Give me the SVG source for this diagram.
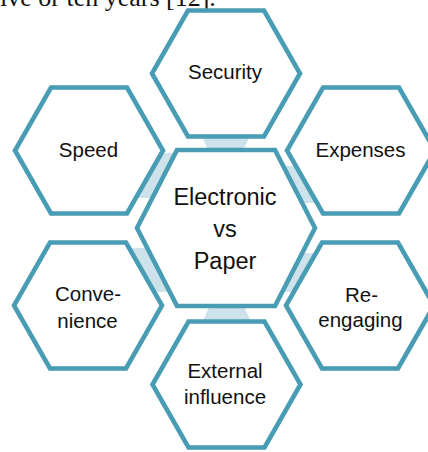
<svg xmlns="http://www.w3.org/2000/svg" width="428" height="452" viewBox="0 0 428 452">
<style>
.hex{fill:#ffffff;stroke:#489cb4;stroke-width:4.6;stroke-linejoin:miter}
.con{fill:#cde2ea;stroke:none}
.lbl{font-family:"Liberation Sans",Arial,sans-serif;font-size:20.5px;fill:#111111;text-anchor:middle}
.big{font-size:23.5px}
.top{font-family:"Liberation Serif","Times New Roman",serif;font-size:26px;fill:#111111}
</style>
<rect x="0" y="0" width="428" height="452" fill="#ffffff"/>
<text class="top" x="0" y="5.5">ive or ten years [12].</text>
<g id="connectors">
<polygon class="con" points="202,136 250,136 243,150.5 208,150.5"/>
<polygon class="con" points="210,305 243,305 251,321 203,321"/>
<polygon class="con" points="158,153 180,153 155,198 132,198"/>
<polygon class="con" points="280,166 299,166 320,203 299,203"/>
<polygon class="con" points="127,248 151,248 173,292 151,292"/>
<polygon class="con" points="298,253 319,253 297,292 278,292"/>
</g>
<g id="node-security">
<polygon class="hex" points="188,10.5 264,10.5 300,73.5 264,136.5 188,136.5 152,73.5"/>
<text class="lbl" x="225" y="79">Security</text>
</g>
<g id="node-speed">
<polygon class="hex" points="51,87.5 127,87.5 163,150.5 127,213.5 51,213.5 15,150.5"/>
<text class="lbl" x="88.5" y="157">Speed</text>
</g>
<g id="node-expenses">
<polygon class="hex" points="323,87.5 399,87.5 435,150.5 399,213.5 323,213.5 287,150.5"/>
<text class="lbl" x="360.5" y="157">Expenses</text>
</g>
<g id="node-convenience">
<polygon class="hex" points="50,242.5 126,242.5 162,305.5 126,368.5 50,368.5 14,305.5"/>
<text class="lbl" x="88" y="300.5">Conve-</text>
<text class="lbl" x="87.5" y="328">nience</text>
</g>
<g id="node-reengaging">
<polygon class="hex" points="322,242.5 398,242.5 434,305.5 398,368.5 322,368.5 286,305.5"/>
<text class="lbl" x="361.5" y="301.5">Re-</text>
<text class="lbl" x="360.5" y="327">engaging</text>
</g>
<g id="node-external">
<polygon class="hex" points="188.5,321.5 264.5,321.5 300.5,384.5 264.5,447.5 188.5,447.5 152.5,384.5"/>
<text class="lbl" x="225" y="378">External</text>
<text class="lbl" x="225" y="404">influence</text>
</g>
<g id="node-center">
<polygon class="hex" points="177,150 275,150 315,228 275,306 177,306 137,228"/>
<text class="lbl big" x="225" y="205">Electronic</text>
<text class="lbl big" x="225" y="237">vs</text>
<text class="lbl big" x="225" y="269">Paper</text>
</g>
</svg>
